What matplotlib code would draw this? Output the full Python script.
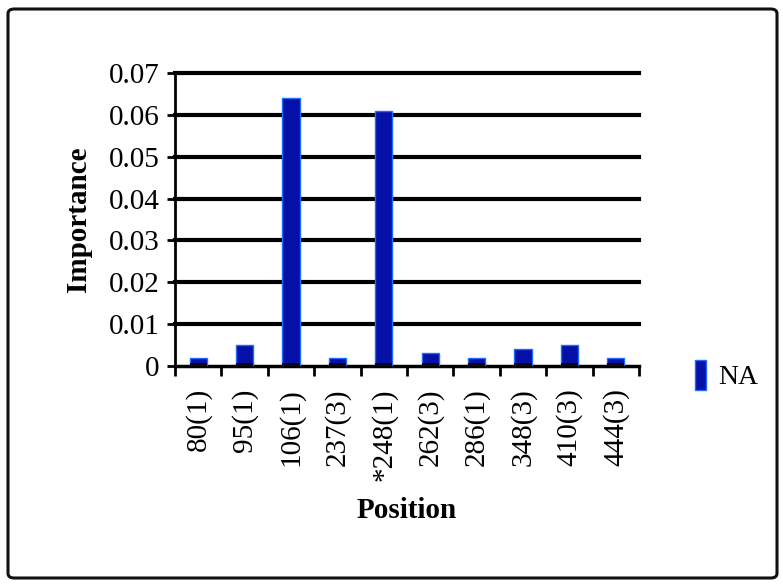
import matplotlib
matplotlib.use("Agg")
import matplotlib.pyplot as plt
from matplotlib.patches import FancyBboxPatch, Rectangle

positions = ["80(1)", "95(1)", "106(1)", "237(3)", "*248(1)",
             "262(3)", "286(1)", "348(3)", "410(3)", "444(3)"]
importance = [0.002, 0.005, 0.064, 0.002, 0.061,
              0.003, 0.002, 0.004, 0.005, 0.002]
yticks = [0, 0.01, 0.02, 0.03, 0.04, 0.05, 0.06, 0.07]
ytick_labels = ["0", "0.01", "0.02", "0.03", "0.04", "0.05", "0.06", "0.07"]

BAR, EDGE = "#0410a6", "#1f6bff"

plt.rcParams["font.family"] = ["Liberation Serif", "DejaVu Serif"]

fig = plt.figure(figsize=(7.83, 5.87), dpi=100)
ax = fig.add_axes([175 / 783, 1 - 366 / 587, (639 - 175) / 783, (366 - 73) / 587])

# outer rounded frame
frame = FancyBboxPatch((8 / 783, 9 / 587), (777 - 8) / 783, (578 - 9) / 587,
                       boxstyle="round,pad=0,rounding_size=0.008",
                       transform=fig.transFigure, fill=False,
                       ec="#111111", lw=2.2, zorder=0)
fig.patches.append(frame)

x = range(len(positions))
for yv in yticks[1:]:
    ax.axhline(yv, color="black", lw=3.0, zorder=1, clip_on=False)
ax.bar(x, importance, width=0.37, color=BAR, edgecolor=EDGE, lw=1.0, zorder=3)
# dark base of each bar
ax.bar(x, [0.0008] * len(positions), width=0.37, color="#050520", lw=0, zorder=4)

ax.set_xlim(-0.5, len(positions) - 0.5)
ax.set_ylim(0, 0.07)
ax.set_yticks(yticks)
ax.set_yticklabels(ytick_labels, fontsize=21)
ax.set_xticks([i - 0.5 for i in range(len(positions) + 1)], minor=False)
ax.set_xticklabels([])
ax.set_xticks(list(x), minor=True)
ax.set_xticklabels(positions, minor=True, rotation=90, fontsize=21)
ax.tick_params(axis="x", which="minor", length=0, pad=16)
ax.tick_params(axis="x", which="major", length=7, width=2, direction="out")
ax.tick_params(axis="y", length=6, width=2, direction="out", pad=5)

for s in ["top", "right"]:
    ax.spines[s].set_visible(False)
ax.spines["left"].set_linewidth(2)
ax.spines["bottom"].set_linewidth(2.5)

ax.set_ylabel("Importance", fontsize=21, fontweight="bold", labelpad=12)
ax.set_xlabel("Position", fontsize=21, fontweight="bold", labelpad=12)

fig.legend(handles=[Rectangle((0, 0), 1, 1, color=BAR, ec=EDGE)],
           labels=["NA"], loc="center left",
           bbox_to_anchor=(670 / 783, 1 - 375 / 587), frameon=False,
           fontsize=20, handlelength=0.4, handleheight=1.3, handletextpad=0.45)

fig.savefig("out.png", dpi=100, facecolor="white")
